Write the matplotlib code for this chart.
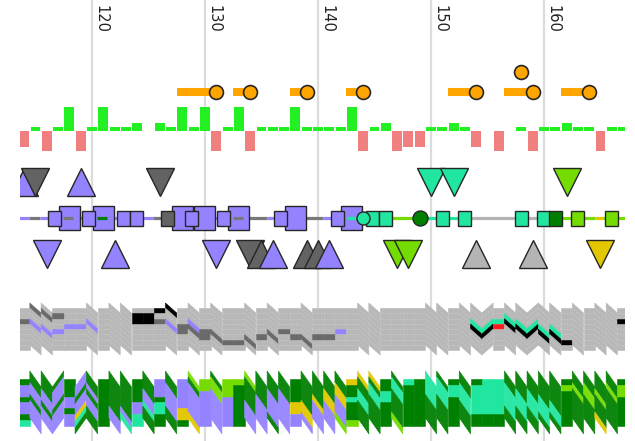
import matplotlib
matplotlib.use("Agg")
import matplotlib.pyplot as plt
from matplotlib.collections import PolyCollection, LineCollection
from matplotlib.patches import Rectangle

# residue window shown, gridline ticks
first_res = 114
ticks = [120, 130, 140, 150, 160]

# per-residue propensity bars (114..167), + up / - down
hydro = [-4, 1, -5, 1, 6, -5, 1, 6, 1, 1,
         2, 0, 2, 1, 6, 1, 6, -5, 1, 6,
         -5, 1, 1, 1, 6, 1, 1, 1, 1, 6,
         -5, 1, 2, -5, -4, -4, 1, 1, 2, 1,
         -4, 0, -5, 0, 1, -5, 1, 1, 2, 1,
         1, -5, 1, 1]

# site lollipops: bar start, site position
site_from = [127.5, 132.5, 137.5, 142.5, 151.5, 156.5, 161.5]
site_pos = [131, 134, 139, 144, 154, 159, 164]
site_upper = [158]

# triangles above / below the backbone
top_pos = [114, 115, 119, 126, 150, 152, 162]
top_dir = ["^", "v", "^", "v", "v", "v", "v"]
top_col = ["P", "D", "P", "D", "T", "T", "L"]
bot_pos = [116, 122, 131, 134, 135, 136, 139, 140, 141, 147, 148, 154, 159, 165]
bot_dir = ["v", "^", "v", "v", "^", "^", "^", "^", "^", "v", "v", "^", "^", "v"]
bot_col = ["P", "P", "P", "D", "D", "P", "D", "D", "P", "L", "L", "S", "S", "Y"]

# backbone coloured segments
bone_edges = [113.5, 114.4, 115.4, 125.4, 126.3, 132.5, 135.5, 138.5, 140.4, 142.6,
              146.5, 149.0, 153.5, 157.4, 158.6, 159.4, 161.6, 164.5, 165.2, 167.5]
bone_cols = ["P", "M", "P", "M", "P", "M", "P", "M", "P", "T",
             "L", "T", "S", "T", "S", "T", "L", "Y", "L"]
inner_from = [117.4, 120.4, 132.5, 142.6]
inner_to = [118.3, 121.3, 133.4, 143.5]
inner_cols = ["M", "G", "M", "T"]

# domain boxes on the backbone
big_pos = [118, 121, 128, 130, 133, 138, 143]
small_pos = [116.7, 119.7, 122.8, 123.9, 126.7, 128.8, 131.6, 136.7, 141.7,
             144.8, 146, 151, 153, 158, 160, 161, 163, 166]
small_col = ["P", "P", "P", "P", "D", "P", "P", "P", "P",
             "T", "T", "T", "T", "T", "T", "G", "L", "L"]
dot_pos = [144, 149]
dot_col = ["T", "G"]

# conformation ribbon (grey) per residue, top to bottom
grey_tilt = "fddfffdfdd" "fffdfdfdff" "dfdffdffff" "ddffffddfd" "dufdduddfd" "fddf"
grey_stack = (["..d.....", "d..p....", ".d..p...", ".d..p...", "...p....",
               "...p....", "...p....", "........", "........", "........",
               ".kk.....", ".kk.....", "k.d.....", "k..p....", "...dd...",
               "...pd...", "....dd..", ".....d..", "......d.", "......d.",
               "......d.", ".....d..", ".....d..", "....d...", ".....d..",
               "......d.", ".....d..", ".....d..", "....p..."]
              + ["........"] * 11
              + ["...tk...", "...tk...", "..tr....", "..tk....", "...tk...",
                 "...tk...", "....tk..", "....tk..", "......k."]
              + ["........"] * 4 + ["..k....."])

# composition ribbon per residue, top to bottom
comp_tilt = "fddufudfdd" "fdfdfdfdff" "ddddfddddf" "ddfdffddfd" "fffdddddfd" "dddf"
comp_stack = ["GPPGPPGT", "GGPPGPPP", "GGGPPGPP", "GPPPGPPP", "GGGPPGPP",
              "PPGPPYTG", "GGPGPPGG", "GGGGGGGG", "GGGGGGPP", "GGGGGGPT",
              "GGGGPPTT", "GGGPPTGG", "PPPGTTGG", "GGPPPPGG", "PPPPPYYG",
              "LGPPPPPY", "LLPPPPPP", "GLLPPPPP", "LLLPPPPP", "LGGGGGGG",
              "LGGGGPPP", "GGGGPPPP", "GGGPPPPG", "GGGPPPPP", "GGGGYYPP",
              "GGGGGYYP", "GGGGYPPP", "GGGYYPPP", "GGYYPPPL", "YGGTGGGL",
              "YGGTTGGG", "YGTTGGGG", "GGTTGGGG", "GTTGGGGL", "TGGGGGGG",
              "GGGGGGGG", "TTTTGGGG", "GTTTGGGG", "GTTGGGGG", "GGTTTGGG",
              "GTTTTTGG", "TTTTTTGG", "TTTTTTGG", "GGTTTTGG", "GGGTTTGG",
              "GGGTTTGG", "GGGGTTTG", "GGGGGTTG", "GLGGGGGG", "GGLGGGGG",
              "GGLLGGGG", "GGGLGGGY", "GGLGGGGG", "GLLGGGGG"]

PAL = {"P": "#9483ff", "D": "#636363", "T": "#20e6a0", "L": "#74dc00",
       "G": "#008000", "Y": "#e3c700", "S": "#b4b4b4", "M": "#787878",
       ".": "#b8b8b8", "k": "#000000", "d": "#6a6a6a", "p": "#9483ff",
       "t": "#20e6a0", "r": "#ff1a1a"}
EDGE = "#262626"


def ribbon(ax, stacks, tilts, top, h, shear, sub):
    """Stacked per-residue strips; returns strip boundaries (gray/gray) and
    sub-strip lines of slanted columns."""
    polys, cols, seps, hatch = [], [], [], []
    for i, (stack, tilt) in enumerate(zip(stacks, tilts)):
        x0, x1 = first_res + i - 0.5, first_res + i + 0.5
        dl, dr = {"f": (0, 0), "d": (-shear, shear), "u": (shear, -shear)}[tilt]
        k = 0
        while k < len(stack):
            j = k
            while j + 1 < len(stack) and stack[j + 1] == stack[k]:
                j += 1
            ya, yb = top + k * h, top + (j + 1) * h
            polys.append([(x0, ya + dl), (x1, ya + dr), (x1, yb + dr), (x0, yb + dl)])
            cols.append(PAL[stack[k]])
            k = j + 1
        for k in range(1, len(stack)):
            if stack[k] == "." and stack[k - 1] == ".":
                y = top + k * h
                seps.append([(x0, y + dl), (x1, y + dr)])
        if tilt != "f":
            for k in range(len(stack) * sub):
                y = top + k * h / sub
                hatch.append([(x0, y + dl), (x1, y + dr)])
    ax.add_collection(PolyCollection(polys, facecolors=cols, edgecolors=cols,
                                     linewidths=0.4, zorder=2))
    return seps, hatch


fig = plt.figure(figsize=(6.35, 4.41), dpi=100)
ax = fig.add_axes([20 / 635, 0, 605 / 635, 1])
ax.set_xlim(113.63, 167.17)
ax.set_ylim(441, 0)
ax.axis("off")

for t in ticks:
    ax.axvline(t, color="#dcdcdc", lw=1.6, zorder=0)
    ax.text(t + 0.12, 5, str(t), rotation=-90, ha="left", va="top",
            fontsize=10.5, color="#222222", family="DejaVu Sans")

# propensity bars
res = list(range(first_res, first_res + len(hydro)))
ax.bar(res, [-4 * v for v in hydro], bottom=131, width=0.88,
       color=["#22f022" if v > 0 else "#f08080" for v in hydro], zorder=2)

# lollipops
ax.hlines([92] * len(site_pos), site_from, site_pos, color="#ffa500", lw=5.8, zorder=2)
ax.plot(site_pos, [92] * len(site_pos), "o", ms=10, mfc="#ffa500", mec=EDGE, mew=1.2, zorder=3)
ax.plot(site_upper, [72] * len(site_upper), "o", ms=10, mfc="#ffa500", mec=EDGE, mew=1.2, zorder=3)

# backbone
for a, b, c in zip(bone_edges[:-1], bone_edges[1:], bone_cols):
    ax.plot([a, b], [218, 218], color=PAL[c], lw=2.3, solid_capstyle="butt", zorder=2)
for p in big_pos:
    ax.add_patch(Rectangle((p - 0.93, 206), 1.86, 24, fc=PAL["P"], ec=EDGE, lw=1, zorder=3))
for p, c in zip(small_pos, small_col):
    ax.add_patch(Rectangle((p - 0.575, 210.5), 1.15, 15, fc=PAL[c], ec=EDGE, lw=1, zorder=3))
for a, b, c in zip(inner_from, inner_to, inner_cols):
    ax.plot([a, b], [218, 218], color=PAL[c], lw=2.3, solid_capstyle="butt", zorder=4)
for p, c, ms in zip(dot_pos, dot_col, [9.4, 10.8]):
    ax.plot(p, 218, "o", ms=ms, mfc=PAL[c], mec=EDGE, mew=1, zorder=4)

# triangles
for p, d, c in zip(top_pos, top_dir, top_col):
    ax.plot(p, 181.5, d, ms=19.5, mfc=PAL[c], mec=EDGE, mew=1, zorder=3)
for p, d, c in zip(bot_pos, bot_dir, bot_col):
    ax.plot(p, 254, d, ms=19.5, mfc=PAL[c], mec=EDGE, mew=1, zorder=3)

# ribbons
seps, _ = ribbon(ax, grey_stack, grey_tilt, 308, 5.25, 5, 1)
ax.add_collection(LineCollection(seps, colors="white", alpha=0.3, lw=0.5,
                                 linestyles=(0, (2, 2)), zorder=3))
_, hatch = ribbon(ax, comp_stack, comp_tilt, 379, 5.85, 8, 3)
ax.add_collection(LineCollection(hatch, colors="white", alpha=0.1, lw=0.5, zorder=3))

fig.savefig("out.png", dpi=100)
